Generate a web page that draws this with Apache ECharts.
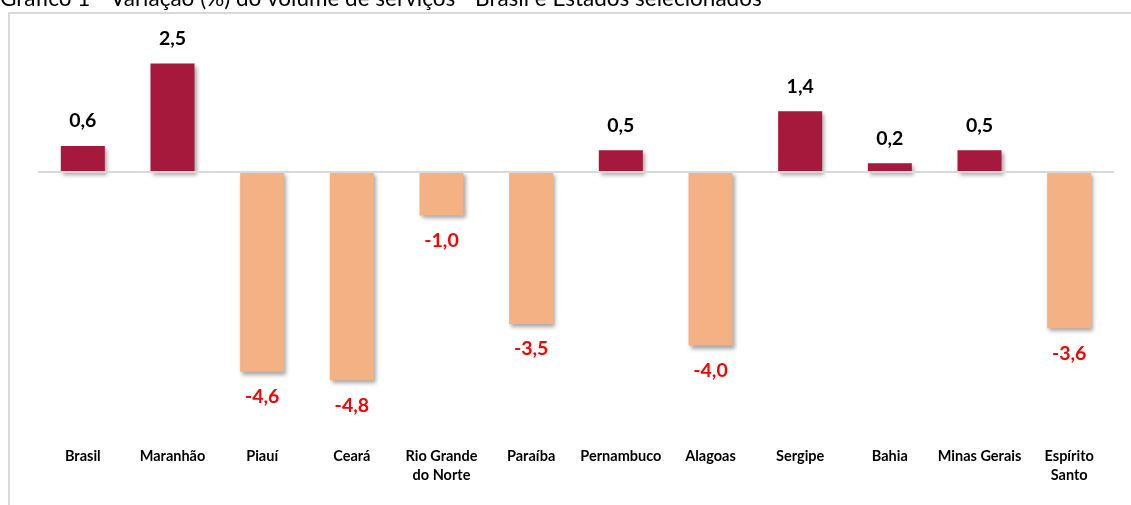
<!DOCTYPE html>
<html>
<head>
<meta charset="utf-8">
<script src="https://cdn.jsdelivr.net/npm/echarts@6/dist/echarts.min.js"></script>
<style>
html, body { margin: 0; padding: 0; background: #fff; }
#chart { width: 1131px; height: 505px; }
</style>
</head>
<body>
<div id="chart"></div>
<script>
// dados
var estados = ['Brasil', 'Maranhão', 'Piauí', 'Ceará', 'Rio Grande\ndo Norte', 'Paraíba', 'Pernambuco', 'Alagoas', 'Sergipe', 'Bahia', 'Minas Gerais', 'Espírito\nSanto'];
var variacao = [0.6, 2.5, -4.6, -4.8, -1.0, -3.5, 0.5, -4.0, 1.4, 0.2, 0.5, -3.6];

var corPos = '#A6193C';
var corNeg = '#F4B183';

var chart = echarts.init(document.getElementById('chart'));

var barras = variacao.map(function (v) {
    return {
        value: v,
        itemStyle: { color: v >= 0 ? corPos : corNeg },
        label: {
            position: v >= 0 ? 'top' : 'bottom',
            color: v >= 0 ? '#000' : '#FF0000'
        }
    };
});

var option = {
    animation: false,
    graphic: [
        {
            type: 'rect',
            shape: { x: 9, y: 13, width: 1140, height: 520 },
            style: { fill: 'none', stroke: '#d9d9d9', lineWidth: 2 },
            silent: true
        },
        {
            type: 'text',
            left: 0,
            top: -13,
            style: {
                text: 'Gráfico 1 - Variação (%) do volume de serviços - Brasil e Estados selecionados',
                font: '22.5px Lato, sans-serif',
                fill: '#000'
            }
        }
    ],
    grid: {
        left: 38,
        right: 17,
        top: 20.1,
        bottom: 72.6,
        containLabel: false
    },
    xAxis: {
        type: 'category',
        data: estados,
        position: 'bottom',
        axisLine: { show: false, onZero: false },
        axisTick: { show: false },
        axisLabel: {
            margin: 14,
            interval: 0,
            fontFamily: 'Lato',
            fontWeight: 'bold',
            fontSize: 14.5,
            lineHeight: 19,
            color: '#000'
        }
    },
    yAxis: {
        type: 'value',
        min: -6,
        max: 3.5,
        show: false,
        splitLine: { show: false }
    },
    series: [
        {
            type: 'bar',
            barWidth: 44,
            data: barras,
            itemStyle: {
                shadowBlur: 4,
                shadowOffsetX: 2,
                shadowOffsetY: 3,
                shadowColor: 'rgba(0,0,0,0.35)'
            },
            label: {
                show: true,
                distance: 15,
                fontFamily: 'Lato',
                fontWeight: 'bold',
                fontSize: 19.5,
                formatter: function (p) {
                    return p.value.toFixed(1).replace('.', ',');
                }
            },
            markLine: {
                silent: true,
                symbol: 'none',
                label: { show: false },
                lineStyle: { color: '#d9d9d9', width: 2, type: 'solid' },
                data: [{ yAxis: 0 }]
            }
        }
    ]
};

chart.setOption(option);
</script>
</body>
</html>
